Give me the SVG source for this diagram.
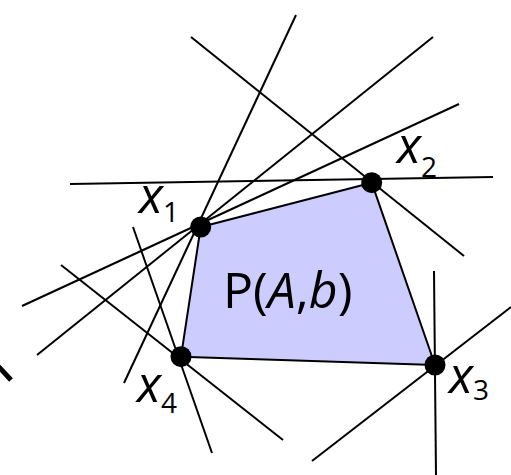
<svg xmlns="http://www.w3.org/2000/svg" width="511" height="475" viewBox="0 0 511 475">
<style>
.ln{stroke:#000;stroke-width:2;fill:none;stroke-linecap:butt}
.poly{fill:#ccccff;stroke:#000;stroke-width:2;stroke-linejoin:round}
.dot{fill:#000}
.lbl{font-family:"Open Sans","Noto Sans",sans-serif;font-size:50px;font-style:italic;fill:#000}
.sub{font-size:28px;font-style:normal}
.ptxt{font-family:"Open Sans","Noto Sans",sans-serif;font-size:50px;fill:#000}
</style>
<rect width="511" height="475" fill="#fff"/>
<g id="polytope">
<polygon class="poly" points="200.7,227 371.7,182.7 435,365 181,356.7"/>
<text class="ptxt" x="223" y="308">P(<tspan font-style="italic">A</tspan>,<tspan font-style="italic">b</tspan>)</text>
</g>
<g id="connectors">
<line class="ln" x1="191" y1="37" x2="464" y2="256"/>
<line class="ln" x1="70" y1="184" x2="493" y2="177"/>
<line class="ln" x1="296" y1="15" x2="124" y2="383"/>
<line class="ln" x1="433" y1="37" x2="37" y2="355"/>
<line class="ln" x1="459" y1="104" x2="22" y2="306"/>
<line class="ln" x1="133" y1="227" x2="212" y2="453"/>
<line class="ln" x1="61" y1="265" x2="283" y2="440"/>
<line class="ln" x1="434" y1="271" x2="436" y2="475"/>
<line class="ln" x1="312" y1="461" x2="511" y2="307"/>
<line x1="-2" y1="366" x2="11" y2="380" stroke="#000" stroke-width="5"/>
</g>
<g id="x1">
<circle class="dot" cx="200.7" cy="227" r="10.5"/>
<text class="lbl" x="139" y="213">x<tspan class="sub" x="163" y="222">1</tspan></text>
</g>
<g id="x2">
<circle class="dot" cx="371.7" cy="182.7" r="10.5"/>
<text class="lbl" x="397" y="163">x<tspan class="sub" x="421" y="177">2</tspan></text>
</g>
<g id="x3">
<circle class="dot" cx="435" cy="365" r="10.5"/>
<text class="lbl" x="449" y="393">x<tspan class="sub" x="473" y="400">3</tspan></text>
</g>
<g id="x4">
<circle class="dot" cx="181" cy="356.7" r="10.5"/>
<text class="lbl" x="137" y="402">x<tspan class="sub" x="161" y="413">4</tspan></text>
</g>
</svg>
